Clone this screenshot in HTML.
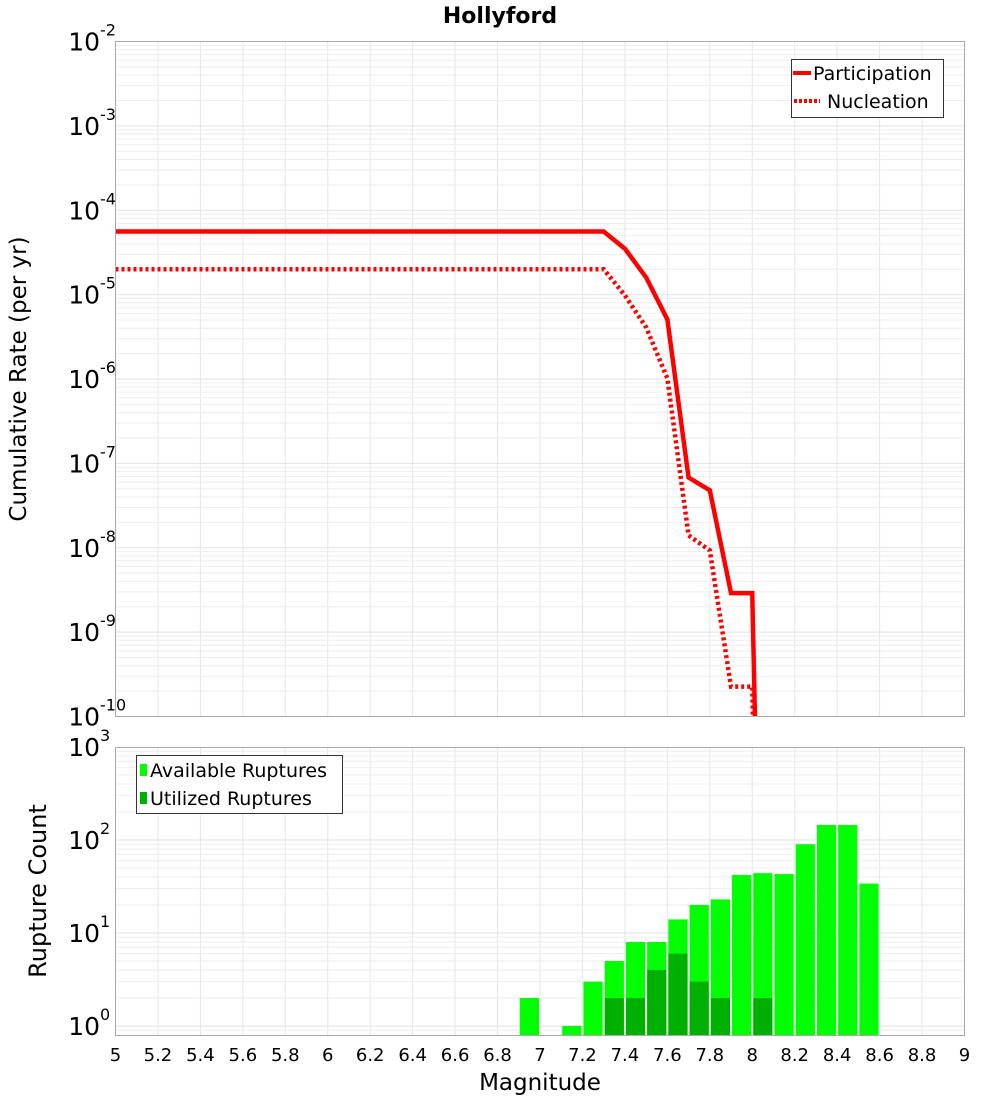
<!DOCTYPE html>
<html><head><meta charset="utf-8"><style>
html,body{margin:0;padding:0;background:#fff;width:1000px;height:1100px;overflow:hidden;}
svg{display:block;font-family:"DejaVu Sans","Liberation Sans",sans-serif;}
</style></head><body>
<svg id="chart" width="1000" height="1100" viewBox="0 0 1000 1100">
<text x="500" y="23" text-anchor="middle" font-size="22" font-weight="bold">Hollyford</text>
<g id="top-grid"></g>
<g id="bot-grid"></g>
<g id="bars"></g>
<g id="lines"></g>
<rect x="115.5" y="41.5" width="849" height="675" fill="none" stroke="#aaa"/>
<rect x="115.5" y="747.5" width="849" height="288" fill="none" stroke="#aaa"/>
<g id="ticks"></g>
<text transform="translate(26,379) rotate(-90)" text-anchor="middle" font-size="23">Cumulative Rate (per yr)</text>
<text transform="translate(46,891) rotate(-90)" text-anchor="middle" font-size="24">Rupture Count</text>
<text x="540" y="1090" text-anchor="middle" font-size="23">Magnitude</text>
<g>
<rect x="791.5" y="59.5" width="152" height="58" fill="#fff" stroke="#333"/>
<line x1="793" y1="73" x2="811" y2="73" stroke="#f00" stroke-width="4"/>
<text x="813" y="80" font-size="19">Participation</text>
<line x1="794" y1="101" x2="820" y2="101" stroke="#f00" stroke-width="4" stroke-dasharray="3,2"/>
<text x="827" y="108" font-size="19">Nucleation</text>
</g>
<g>
<rect x="136.5" y="755.5" width="206" height="58" fill="#fff" stroke="#333"/>
<rect x="140" y="764" width="7" height="12" fill="#00ff00"/>
<text x="150" y="777" font-size="19">Available Ruptures</text>
<rect x="140" y="792" width="7" height="12" fill="#00b000"/>
<text x="150" y="805" font-size="19">Utilized Ruptures</text>
</g>
</svg>
<script>
// Data
const lineMags = [5.0, 7.3, 7.4, 7.5, 7.6, 7.7, 7.8, 7.9, 8.0, 8.1];
const participation = [5.6e-5, 5.6e-5, 3.5e-5, 1.6e-5, 5.1e-6, 6.8e-8, 4.8e-8, 2.9e-9, 2.9e-9, 1e-20];
const nucleation = [2.0e-5, 2.0e-5, 9.8e-6, 4.1e-6, 1.02e-6, 1.4e-8, 9.3e-9, 2.26e-10, 2.26e-10, 1e-20];
const barMags = [6.9, 7.1, 7.2, 7.3, 7.4, 7.5, 7.6, 7.7, 7.8, 7.9, 8.0, 8.1, 8.2, 8.3, 8.4, 8.5];
const availableCounts = [2, 1, 3, 5, 8, 8, 14, 20, 23, 42, 44, 43, 90, 145, 145, 34];
const utilizedCounts = [0, 0, 0, 2, 2, 4, 6, 3, 2, 0, 2, 0, 0, 0, 0, 0];
const xTicks = ["5","5.2","5.4","5.6","5.8","6","6.2","6.4","6.6","6.8","7","7.2","7.4","7.6","7.8","8","8.2","8.4","8.6","8.8","9"];
const topExps = [-2,-3,-4,-5,-6,-7,-8,-9,-10];
const botExps = [3,2,1,0];

const NS = "http://www.w3.org/2000/svg";
const X0=115.5, X1=964.5;
const xs = m => X0 + (m-5)/4*(X1-X0);
const yTop = v => 41.5 + (-2 - Math.log10(v))*84.375;
const yBot = v => 1026 + (0 - Math.log10(v))*93;
function mk(tag, attrs, parent){const e=document.createElementNS(NS,tag);for(const k in attrs)e.setAttribute(k,attrs[k]);parent.appendChild(e);return e;}

const tg=document.getElementById('top-grid'), bg=document.getElementById('bot-grid');
xTicks.forEach(t=>{const x=xs(parseFloat(t));
  const a=mk('line',{x1:x,x2:x,y1:41.5,y2:716.5,stroke:'#e6e6e6'},tg);
  
  
  const b=mk('line',{x1:x,x2:x,y1:747.5,y2:1035.5,stroke:'#e6e6e6'},bg);
  
  
});
for(let e=-10;e<-2;e++){for(let k=1;k<10;k++){const y=yTop(k*Math.pow(10,e));
  const l=mk('line',{x1:X0,x2:X1,y1:y,y2:y,stroke:k==1?'#e2e2e2':'#eeeeee'},tg);
  
  }}
for(let e=-1;e<3;e++){for(let k=1;k<10;k++){const y=yBot(k*Math.pow(10,e)); if(y>1035||y<747)continue;
  const l=mk('line',{x1:X0,x2:X1,y1:y,y2:y,stroke:k==1?'#e2e2e2':'#eeeeee'},bg);
  
  }}

const bars=document.getElementById('bars');
const bw = xs(5.1)-xs(5.0);
barMags.forEach((m,i)=>{
  const x=xs(m)+1, w=bw-2;
  const ya=yBot(availableCounts[i]);
  const r=mk('rect',{x:x,y:ya,width:w,height:1035-ya,fill:'#00ff00'},bars);
  
  
  if(utilizedCounts[i]>0){const yu=yBot(utilizedCounts[i]);
    const u=mk('rect',{x:x,y:yu,width:w,height:1035-yu,fill:'#00b000'},bars);
    
    }
});

const lg=document.getElementById('lines');
const cp=mk('clipPath',{id:'clipTop'},lg);
mk('rect',{x:X0,y:41.5,width:X1-X0,height:675},cp);
function pts(arr){return lineMags.map((m,i)=>xs(m)+','+yTop(arr[i])).join(' ');}
const p1=mk('polyline',{points:pts(participation),fill:'none',stroke:'#f00','stroke-width':4.5,'clip-path':'url(#clipTop)'},lg);


const p2=mk('polyline',{points:pts(nucleation),fill:'none',stroke:'#f00','stroke-width':4.5,'stroke-dasharray':'3,3','clip-path':'url(#clipTop)'},lg);



const tk=document.getElementById('ticks');
xTicks.forEach(t=>{const tx=mk('text',{x:xs(parseFloat(t)),y:1061,'text-anchor':'middle','font-size':18},tk);tx.textContent=t;
  
  });
function powLabel(y,e,nm){const t=mk('text',{x:100,y:y+9,'text-anchor':'end','font-size':25},tk);t.textContent='10';
  
  
  const s=mk('text',{x:100,y:y-6,'font-size':16},tk);s.textContent=String(e);
  
  }
topExps.forEach(e=>powLabel(yTop(Math.pow(10,e)),e,'top-y-tick-label'));
botExps.forEach(e=>powLabel(yBot(Math.pow(10,e)),e,'bottom-y-tick-label'));
</script>
</body></html>
